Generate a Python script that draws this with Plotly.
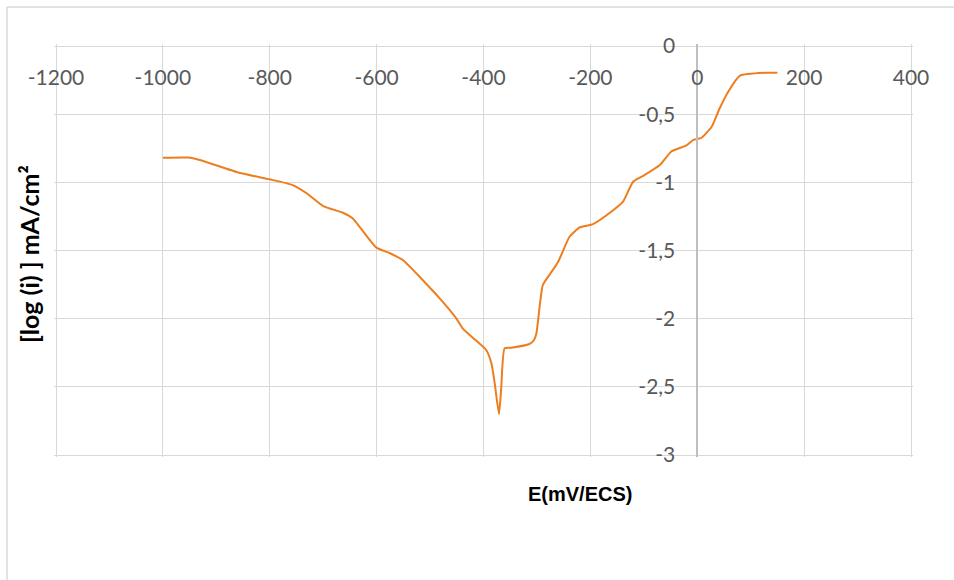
import plotly.graph_objects as go

# Data
potential_mv = [-1000, -953, -931, -857, -800, -757, -731, -700, -663, -645, -601, -575,
                -551, -482, -451, -439, -420, -395, -385, -379, -371, -367, -360.5, -348,
                -314, -306, -301, -289, -275, -260, -239, -220, -195, -161, -139, -120,
                -100, -70, -48, -20, -8, 8, 27, 42, 58, 80, 130, 150]
log_i = [-0.82, -0.818, -0.836, -0.93, -0.978, -1.02, -1.08, -1.174, -1.223, -1.264, -1.477, -1.52,
         -1.57, -1.851, -1.998, -2.071, -2.14, -2.23, -2.33, -2.475, -2.70, -2.52, -2.218, -2.213,
         -2.186, -2.16, -2.108, -1.753, -1.67, -1.58, -1.399, -1.331, -1.306, -1.216, -1.142, -0.996,
         -0.95, -0.873, -0.772, -0.729, -0.69, -0.673, -0.592, -0.457, -0.335, -0.218, -0.196, -0.196]

x_tick_vals = [-1200, -1000, -800, -600, -400, -200, 0, 200, 400]
x_tick_labels = ["-1200", "-1000", "-800", "-600", "-400", "-200", "0", "200", "400"]
y_tick_vals = [0, -0.5, -1, -1.5, -2, -2.5, -3]
y_tick_labels = ["0", "-0,5", "-1", "-1,5", "-2", "-2,5", "-3"]

x_title = "E(mV/ECS)"
y_title = "[log (i) ] mA/cm²"

X_MIN, X_MAX = -1200, 400
Y_MIN, Y_MAX = -3, 0

# body margin is removed by the post script, so page pixels == figure pixels
OFF = 0
W, H = 954, 580
# target plot box in page pixels
PX_LEFT, PX_RIGHT, PX_TOP, PX_BOTTOM = 56, 911, 46, 455
PAD = 2  # extra pixels so edge gridlines are drawn
kx = (PX_RIGHT - PX_LEFT) / (X_MAX - X_MIN)
ky = (PX_BOTTOM - PX_TOP) / (Y_MAX - Y_MIN)
xr = [X_MIN - PAD / kx, X_MAX + PAD / kx]
yr = [Y_MIN - PAD / ky, Y_MAX + PAD / ky]

L = PX_LEFT - PAD - OFF
T = PX_TOP - PAD - OFF
pw = PX_RIGHT - PX_LEFT + 2 * PAD
ph = PX_BOTTOM - PX_TOP + 2 * PAD
R = W - L - pw
B = H - T - ph


def px_x(p):
    return (p - OFF - L) / pw


def px_y(p):
    return (OFF + T + ph - p) / ph


tick_font = dict(family="Lato, Carlito, Calibri, sans-serif", size=21, color="#595959")
grid = "#D9D9D9"
border = dict(color="#D9D9D9", width=1.5)

fig = go.Figure()
fig.add_trace(go.Scatter(
    x=potential_mv, y=log_i, mode="lines",
    line=dict(color="#EE7D1E", width=2, shape="spline", smoothing=0.5),
    showlegend=False, hoverinfo="skip",
))

fig.update_layout(
    width=W, height=H,
    margin=dict(l=L, r=R, t=T, b=B, pad=0),
    paper_bgcolor="white", plot_bgcolor="white",
    xaxis=dict(
        range=xr, tickvals=x_tick_vals, ticktext=x_tick_labels,
        showgrid=True, gridcolor=grid, gridwidth=1, zeroline=False,
        showline=False, ticks="", anchor="free",
        position=(0 - yr[0]) / (yr[1] - yr[0]), side="bottom",
        tickfont=tick_font, ticklabelstandoff=17,
    ),
    yaxis=dict(
        range=yr, tickvals=y_tick_vals, ticktext=y_tick_labels,
        showgrid=True, gridcolor=grid, gridwidth=1, zeroline=False,
        showline=True, linecolor="#BFBFBF", linewidth=1.5, ticks="",
        anchor="free", position=(0 - xr[0]) / (xr[1] - xr[0]), side="left",
        tickfont=tick_font, ticklabelstandoff=17,
    ),
    shapes=[
        dict(type="line", xref="paper", yref="paper",
             x0=px_x(7), x1=px_x(W + 2), y0=px_y(7), y1=px_y(7), line=border, layer="below"),
        dict(type="line", xref="paper", yref="paper",
             x0=px_x(7), x1=px_x(7), y0=px_y(7), y1=px_y(H + 2), line=border, layer="below"),
    ],
    annotations=[
        dict(text=x_title, xref="paper", yref="paper", x=px_x(580), y=px_y(494),
             showarrow=False, xanchor="center", yanchor="middle",
             font=dict(family="Liberation Sans, Arial, sans-serif",
                       size=20, color="#000000", weight="bold")),
        dict(text=y_title, xref="paper", yref="paper", x=px_x(29), y=px_y(254),
             showarrow=False, xanchor="center", yanchor="middle", textangle=-90,
             font=dict(family="Lato, Carlito, Calibri, sans-serif", size=25,
                       color="#000000", weight="bold")),
    ],
)

fig.write_html("out.html",
               config={"displayModeBar": False},
               post_script="document.body.style.margin='0';document.body.style.overflow='hidden';")
